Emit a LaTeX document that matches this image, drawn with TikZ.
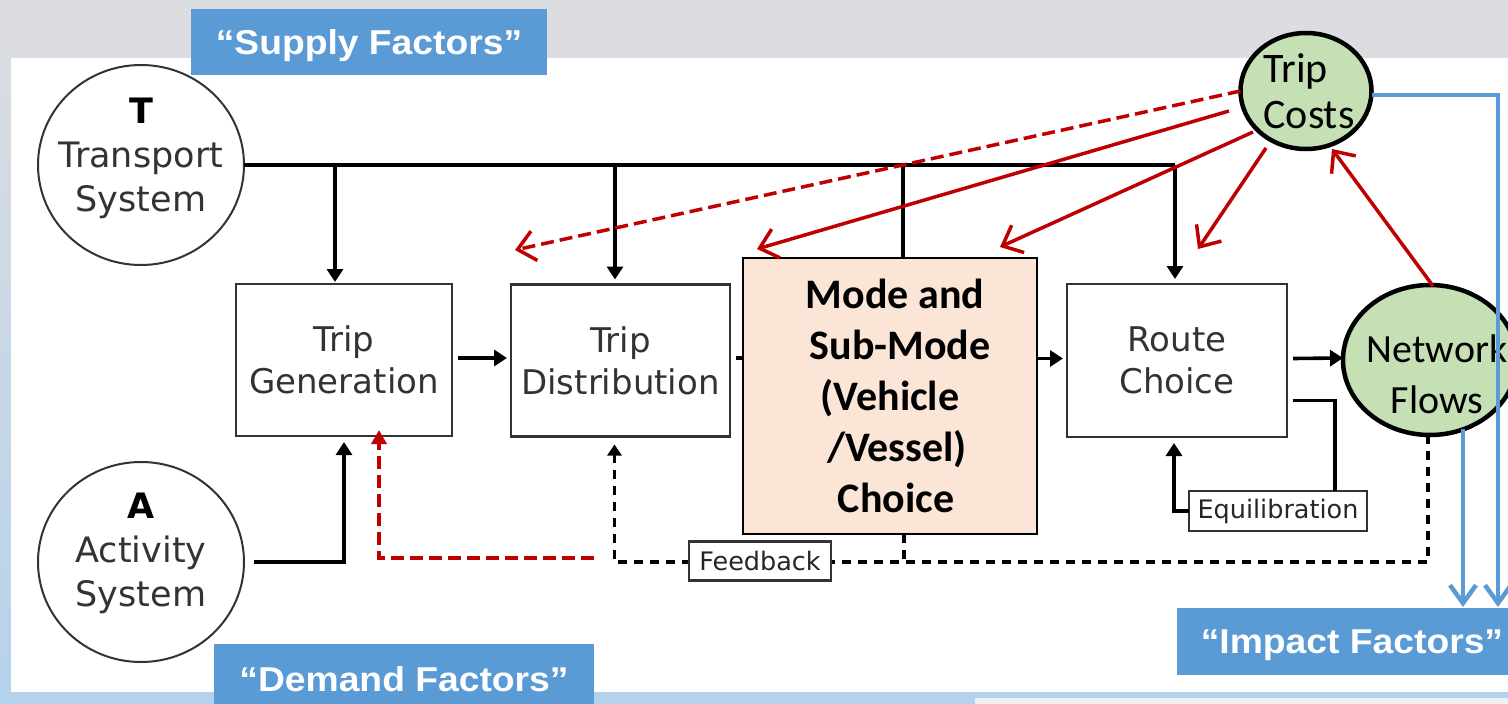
\documentclass[tikz,border=0pt]{standalone}
\usepackage{fontspec}
\setmainfont{DejaVu Sans}
\newfontfamily\carl{Carlito}
\newfontfamily\arlw{Liberation Sans}[FakeStretch=1.08]
\usetikzlibrary{arrows.meta,shapes.geometric,calc}
\definecolor{bgray}{HTML}{DCDDE1}
\definecolor{lblue}{HTML}{B5D2EC}
\definecolor{lgray}{HTML}{F0F0F0}
\definecolor{blu}{HTML}{5B9BD5}
\definecolor{peach}{HTML}{FBE5D6}
\definecolor{grn}{HTML}{C5E0B4}
\definecolor{redc}{HTML}{C00000}
\pgfdeclarelayer{back}
\pgfdeclarelayer{mid}
\pgfsetlayers{back,mid,main}
\begin{document}
\begin{tikzpicture}[x=1pt,y=-1pt,
 box/.style={draw=black!80, line width=2.2pt, fill=white, inner sep=0pt, outer sep=0pt, align=center, text=black!80, font=\fontsize{34}{42}\selectfont},
 tagbox/.style={draw=black!80, line width=2.2pt, fill=white, inner sep=0pt, outer sep=0pt, text=black!85, font=\fontsize{25.5}{28}\selectfont},
 sysc/.style={ellipse, draw=black!80, line width=2pt, fill=white, inner sep=0pt, outer sep=0pt},
 systext/.style={align=center, text=black!80, font=\fontsize{35}{44}\selectfont},
 grnc/.style={ellipse, draw=black, line width=4.5pt, fill=grn, inner sep=0pt, outer sep=0pt},
 grntext/.style={font=\carl\fontsize{42}{46}\selectfont},
 factor/.style={fill=blu, text=white, inner sep=0pt, outer sep=0pt, text depth=0pt, font=\arlw\bfseries\fontsize{34.5}{36}\selectfont},
 blk/.style={draw=black, line width=3.6pt},
 blkarrow/.style={blk, -{Triangle[length=13pt,width=16pt]}},
 fbl/.style={draw=black, line width=3.6pt, dash pattern=on 9pt off 7pt},
 redarrow/.style={draw=redc, line width=3.5pt, -{Straight Barb[length=17pt,width=30pt]}},
 reddash/.style={redarrow, dash pattern=on 13pt off 6pt},
 bluarrow/.style={draw=blu, line width=4.5pt, -{Straight Barb[length=18pt,width=26pt]}},
]
\useasboundingbox (0,0) rectangle (1508,704);
\clip (0,0) rectangle (1508,704);
\begin{pgfonlayer}{back}
\fill[bgray] (0,0) rectangle (1508,704);
\shade[top color=bgray, bottom color=lblue] (0,0) rectangle (11,704);
\fill[lblue] (0,692) rectangle (1508,704);
\fill[lgray] (975,698) rectangle (1508,704);
\fill[white] (11,58) rectangle (1508,692);
\end{pgfonlayer}

% factor labels
\node[factor, minimum width=356pt, minimum height=66pt] (supply) at (369,42) {“Supply Factors”};
\node[factor, minimum width=380pt, minimum height=70pt] (demand) at (404,679) {“Demand Factors”};
\node[factor, minimum width=350pt, minimum height=67pt] (impact) at (1352,641.5) {“Impact Factors”};

% systems
\node[sysc, minimum width=206pt, minimum height=200pt,
  label={[systext, yshift=7pt]center:{\textbf{\color{black}T}\\Transport\\System}}] (tsys) at (141,165) {};
\node[sysc, minimum width=206pt, minimum height=200pt,
  label={[systext, yshift=9pt]center:{\textbf{\color{black}A}\\Activity\\System}}] (asys) at (141,562) {};

% steps
\node[box, minimum width=216pt, minimum height=152pt] (tgen) at (344,360) {Trip\\Generation};
\node[box, minimum width=219pt, minimum height=152pt] (tdist) at (620.5,360.5) {Trip\\Distribution};
\node[draw=black, line width=1.5pt, fill=peach, minimum width=294pt, minimum height=276pt, inner sep=0pt, outer sep=0pt, align=center, font=\carl\bfseries\fontsize{42}{51}\selectfont] (mode) at (890,396)
  {\hspace*{10pt}Mode and\\\hspace*{20pt}Sub-Mode\\(Vehicle\hspace*{6pt}\\\hspace*{14pt}/Vessel)\\\hspace*{12pt}Choice};
\node[box, minimum width=220pt, minimum height=153pt] (route) at (1177,360.5) {Route\\Choice};
\node[tagbox, minimum width=178pt, minimum height=40pt] (eq) at (1278,511) {Equilibration};
\node[tagbox, minimum width=142pt, minimum height=39pt] (fb) at (760,561) {Feedback};

% green circles
\node[grnc, minimum width=131pt, minimum height=116pt,
  label={[grntext, align=left, xshift=3pt]center:{Trip\\Costs}}] (tc) at (1306,91) {};
\node[grnc, minimum width=174pt, minimum height=150pt,
  label={[grntext, align=center, xshift=7pt, yshift=-14pt, font=\carl\fontsize{40}{51}\selectfont]center:{Network\\Flows}}] (nf) at (1430,360) {};

% supply bus
\coordinate (bus) at (1175,165);
\coordinate (d1) at (335,165);
\coordinate (d2) at (615,165);
\coordinate (d3) at (903,165);
\draw[blk] (tsys.east) -- (bus);
\draw[blkarrow, shorten >=2pt] (d1) -- (d1 |- tgen.north);
\draw[blkarrow, shorten >=5pt] (d2) -- (d2 |- tdist.north);
\draw[blk] (d3) -- (d3 |- mode.north);
\draw[blkarrow, shorten >=5pt] (bus) -- (bus |- route.north);

% activity
\draw[blkarrow, shorten >=6pt] ($(asys.east)+(10,0)$) -| (tgen.south);

% chain
\draw[blkarrow] ($(tgen.east)+(6,-2)$) -- ($(tdist.west)+(-4,-2.5)$);
\draw[blk] ($(tdist.east)+(6,-2.5)$) -- ($(mode.west |- tdist.east)+(0,-2.5)$);
\draw[blkarrow] ($(mode.east |- route.west)+(0,-2)$) -- ($(route.west)+(-4,-2)$);
\draw[blkarrow] ($(route.east)+(6,-2)$) -- ($(nf.west)+(0,-2)$);

% equilibration
\draw[blk] ($(route.east)+(6,40)$) -| ($(eq.north)+(57,0)$);
\draw[blkarrow] (eq.west) -| ($(route.south)+(-3,6)$);

% feedback (behind the label)
\begin{pgfonlayer}{mid}
\coordinate (fbc) at (614.5,562);
\draw[fbl, -{Triangle[length=11pt,width=14pt]}, shorten >=8pt] ($(nf.south)+(-2,0)$) |- (fbc) -- (fbc |- tdist.south);
\draw[fbl] ($(mode.south)+(14,0)$) -- ++(0,27);
\end{pgfonlayer}

% red feedback to trip generation
\coordinate (rd) at (594,558);
\draw[draw=redc, line width=3.5pt, dash pattern=on 13pt off 6pt, -{Triangle[length=14pt,width=15pt]}] (rd) -| ($(tgen.south)+(35,-6)$);

% trip costs arrows
\coordinate (e0) at (515,250);
\coordinate (s1) at (1229,111);
\coordinate (e1) at (757,249);
\coordinate (s2) at (1253,132);
\coordinate (e2) at (1000,247);
\coordinate (s3) at (1266,148);
\coordinate (e3) at (1198,249);
\coordinate (e4) at (1332,149);
\draw[reddash] (tc.west) -- (e0);
\draw[redarrow] (s1) -- (e1);
\draw[redarrow] (s2) -- (e2);
\draw[redarrow] (s3) -- (e3);
\draw[redarrow] ($(nf.north)+(3,1)$) -- (e4);

% impact arrows
\draw[bluarrow] ($(tc.east)+(0,4)$) -| ($(impact.north east)+(-29,-1)$);
\draw[bluarrow] ($(nf.center)+(33,69)$) -- ($(impact.north east)+(-64,-1)$);
\end{tikzpicture}
\end{document}
